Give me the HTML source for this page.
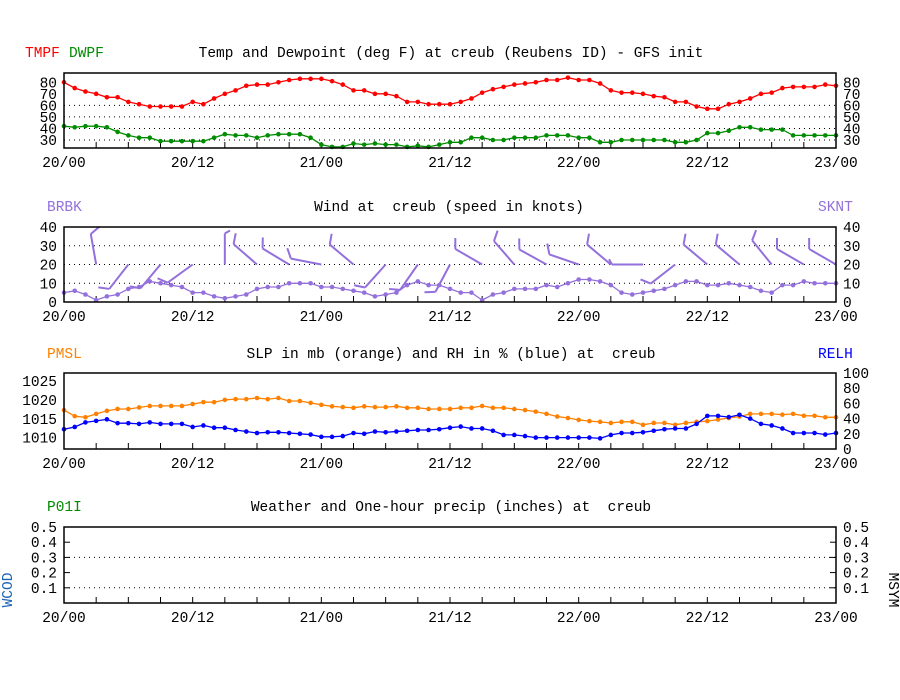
<!DOCTYPE html>
<html><head><meta charset="utf-8">
<style>
html,body{margin:0;padding:0;background:#fff;}
svg{display:block;}
text{font-family:"Liberation Mono",monospace;font-size:14.5px;white-space:pre;}
</style></head>
<body>
<svg id="chart" width="900" height="700" viewBox="0 0 900 700"></svg>
<script>
const hours = Array.from({length:73},(_,i)=>i);
const xTickLabels = ["20/00","20/12","21/00","21/12","22/00","22/12","23/00"];
const tmpf = [80,75,72,70,67,67,63,61,59,59,59,59,63,61,66,70,73,77,78,78,80,82,83,83,83,81,78,73,73,70,70,68,63,63,61,61,61,63,66,71,74,76,78,79,80,82,82,84,82,82,79,73,71,71,70,68,67,63,63,59,57,57,61,63,66,70,71,75,76,76,76,78,77];
const dwpf = [42,41,42,42,41,37,34,32,32,29,29,29,29,29,32,35,34,34,32,34,35,35,35,32,26,24,24,27,26,27,26,26,24,25,24,26,28,28,32,32,30,30,32,32,32,34,34,34,32,32,28,28,30,30,30,30,30,28,28,30,36,36,38,41,41,39,39,39,34,34,34,34,34];
const sknt = [5,6,4,1,3,4,7,8,11,10,9,8,5,5,3,2,3,4,7,8,8,10,10,10,8,8,7,6,5,3,4,5,9,11,9,9,7,5,5,1,4,5,7,7,7,9,8,10,12,12,11,9,5,4,5,6,7,9,11,11,9,9,10,9,8,6,5,9,9,11,10,10,10];
const barbDir = [0,350,218,220,234,360,311,301,281,310,222,215,208,300,319,299,289,310,270,232,310,310,321,300,300];
const barbSpd = [0,10,10,10,10,5,10,10,10,10,10,10,10,10,10,10,10,10,5,10,10,10,10,10,10];
const pmsl = [1017.3,1015.7,1015.4,1016.3,1017.1,1017.6,1017.6,1018,1018.4,1018.4,1018.4,1018.4,1018.9,1019.4,1019.4,1020,1020.2,1020.2,1020.5,1020.2,1020.5,1019.7,1019.7,1019.2,1018.7,1018.3,1018.1,1017.9,1018.3,1018.1,1018.1,1018.3,1017.9,1017.9,1017.6,1017.6,1017.6,1017.9,1017.9,1018.4,1017.9,1017.9,1017.6,1017.3,1016.9,1016.3,1015.6,1015.2,1014.7,1014.4,1014.2,1013.9,1014.2,1014.2,1013.4,1013.9,1013.9,1013.4,1013.9,1014.2,1014.4,1014.8,1015.2,1015.6,1016.3,1016.3,1016.3,1016.1,1016.3,1015.8,1015.8,1015.4,1015.4];
const relh = [26,29,35,37,39,34,34,33,35,33,33,33,29,31,28,28,25,23,21,22,22,21,20,19,16,16,17,21,20,23,22,23,24,25,25,26,28,29.5,27,27,24,18.5,18.5,17,15,15,15,15,15,15,14,18.5,21,21,22,24,26,27,27,33,43.6,43.6,42,45,40,33,31,27,21,21,21,19,21];
const tempTicks = [30,40,50,60,70,80];
const windTicks = [0,10,20,30,40];
const slpTicks = [1010,1015,1020,1025];
const rhTicks = [0,20,40,60,80,100];
const precTicks = [0.1,0.2,0.3,0.4,0.5];

const NS="http://www.w3.org/2000/svg";
const svg=document.getElementById('chart');
function mk(tag,attrs,parent){const e=document.createElementNS(NS,tag);for(const k in attrs)e.setAttribute(k,attrs[k]);(parent||svg).appendChild(e);return e;}
const X0=64,X1=836;
const xs=h=>X0+(X1-X0)*h/72;
function lin(d0,d1,p0,p1){return v=>p0+(v-d0)*(p1-p0)/(d1-d0);}
function txt(s,x,y,color,anchor,name,parent){const t=mk('text',{x:x,y:y,fill:color||'#000','text-anchor':anchor||'start'},parent);t.textContent=s;return t;}

function panel(top,bot,name){
  const g=mk('g',{});
  
  
  for(let h=3;h<72;h+=3){const l=mk('line',{x1:xs(h),x2:xs(h),y1:bot,y2:bot-6,stroke:'#000','stroke-width':1},g);}
  xTickLabels.forEach((s,i)=>txt(s,xs(i*12),bot+19,'#000','middle','x-tick-label',g));
  return g;
}
function frame(g,top,bot){const r=mk('rect',{x:X0,y:top,width:X1-X0,height:bot-top,fill:'none',stroke:'#000','stroke-width':1.5},g);}
function grid(g,y){const l=mk('line',{x1:X0,x2:X1,y1:y,y2:y,stroke:'#000','stroke-width':1,'stroke-dasharray':'1,4'},g);}
function series(g,vals,ys,color,name){
  const pts=vals.map((v,i)=>xs(i).toFixed(1)+','+ys(v).toFixed(1)).join(' ');
  const pl=mk('polyline',{points:pts,fill:'none',stroke:color,'stroke-width':1.3},g);
  
  
  vals.forEach((v,i)=>{const c=mk('circle',{cx:xs(i),cy:ys(v),r:2.3,fill:color},g);
    
    });
}

// Panel 1: temp/dew
{const top=73,bot=148;const y=lin(30,80,140,82.3);const g=panel(top,bot,'temp-dewpoint-panel');
[30,40,50,60].forEach(v=>grid(g,y(v)));
tempTicks.forEach(v=>{txt(String(v),57,y(v)+5,'#000','end','y-tick-label-left',g);txt(String(v),843,y(v)+5,'#000','start','y-tick-label-right',g);});
series(g,tmpf,y,'#ff0000','tmpf');series(g,dwpf,y,'#008c00','dwpf');frame(g,top,bot);
txt('TMPF',25,57,'#ff0000','start','tmpf-legend',g);txt('DWPF',69,57,'#008c00','start','dwpf-legend',g);
txt('Temp and Dewpoint (deg F) at creub (Reubens ID) - GFS init',451,57,'#000','middle','temp-title',g);}

// Panel 2: wind
{const top=227,bot=302;const y=lin(0,40,bot,top);const g=panel(top,bot,'wind-panel');
[10,20,30].forEach(v=>grid(g,y(v)));
windTicks.forEach(v=>{txt(String(v),57,y(v)+5,'#000','end','y-tick-label-left',g);txt(String(v),843,y(v)+5,'#000','start','y-tick-label-right',g);});
series(g,sknt,y,'#9370db','sknt');
barbDir.forEach((d,i)=>{ if(i===0)return; const h=i*3;const bx=xs(h),by=y(20);
  const a=d*Math.PI/180;const L=31;const ex=bx+L*Math.sin(a),ey=by-L*Math.cos(a);
  const l=mk('line',{x1:bx,y1:by,x2:ex,y2:ey,stroke:'#9370db','stroke-width':2},g);
  
  
  const tl=barbSpd[i]>=10?11:6;const b=a+Math.PI/3;
  const t=mk('line',{x1:ex,y1:ey,x2:ex+tl*Math.sin(b),y2:ey-tl*Math.cos(b),stroke:'#9370db','stroke-width':2},g);
  
  });
frame(g,top,bot);
txt('BRBK',47,211,'#9370db','start','brbk-legend',g);txt('SKNT',818,211,'#9370db','start','sknt-legend',g);
txt('Wind at  creub (speed in knots)',449,211,'#000','middle','wind-title',g);}

// Panel 3: SLP/RH
{const top=373,bot=449;const y=lin(1010,1025,437.7,381);const yr=lin(0,100,bot,top);const g=panel(top,bot,'slp-rh-panel');
slpTicks.forEach(v=>txt(String(v),57,y(v)+5,'#000','end','y-tick-label-left',g));
rhTicks.forEach(v=>txt(String(v),843,yr(v)+5,'#000','start','y-tick-label-right',g));
series(g,pmsl,y,'#ff8000','pmsl');series(g,relh,yr,'#0000ff','relh');frame(g,top,bot);
txt('PMSL',47,358,'#ff8000','start','pmsl-legend',g);txt('RELH',818,358,'#0000ff','start','relh-legend',g);
txt('SLP in mb (orange) and RH in % (blue) at  creub',451,358,'#000','middle','slp-title',g);}

// Panel 4: precip
{const top=527,bot=603;const y=lin(0,0.5,bot,top);const g=panel(top,bot,'precip-panel');
[0.1,0.3].forEach(v=>grid(g,y(v)));
precTicks.forEach(v=>{txt(v.toFixed(1),57,y(v)+5,'#000','end','y-tick-label-left',g);txt(v.toFixed(1),843,y(v)+5,'#000','start','y-tick-label-right',g);
  const a=mk('line',{x1:X0,x2:X0+6,y1:y(v),y2:y(v),stroke:'#000'},g);
  const b=mk('line',{x1:X1-6,x2:X1,y1:y(v),y2:y(v),stroke:'#000'},g);});
frame(g,top,bot);
txt('P01I',47,511,'#008c00','start','p01i-legend',g);
txt('Weather and One-hour precip (inches) at  creub',451,511,'#000','middle','precip-title',g);
const w=txt('WCOD',12,590,'#1e64b4','middle','wcod-label',g);w.setAttribute('transform','rotate(-90 12 590)');w.setAttribute('font-size','12');
const m=txt('MSYM',889,590,'#000','middle','msym-label',g);m.setAttribute('transform','rotate(90 889 590)');m.setAttribute('font-size','12');}
</script>
</body></html>
